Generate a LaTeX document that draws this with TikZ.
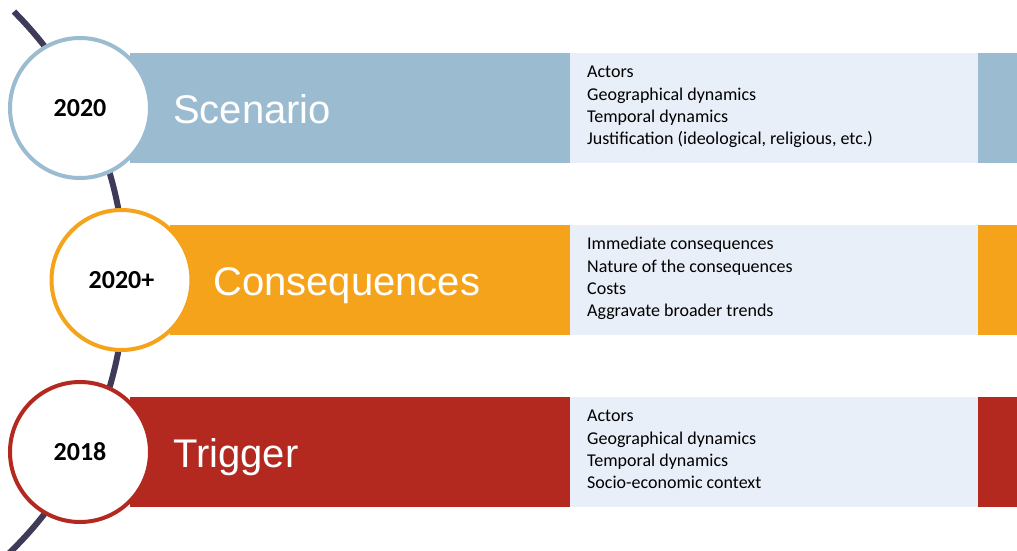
\documentclass[tikz,border=0pt]{standalone}
\usepackage{fontspec}
\setmainfont{Carlito}
\newfontfamily\headfont{Liberation Sans}
\definecolor{scenblue}{HTML}{9BBBD1}
\definecolor{consorange}{HTML}{F4A31B}
\definecolor{trigred}{HTML}{B4291F}
\definecolor{listbg}{HTML}{E9EFF8}
\definecolor{tldark}{HTML}{3D3B58}
\begin{document}
\begin{tikzpicture}
    [x=1pt,y=-1pt,
     band/.style={anchor=west,minimum height=110pt,inner sep=0pt},
     yearring/.style={circle,draw=#1,line width=4pt,fill=white,minimum size=140pt,inner sep=0pt,
       font=\bfseries\fontsize{26}{30}\selectfont},
     heading/.style={anchor=base west,inner sep=0pt,text=white,font=\headfont\fontsize{40}{48}\selectfont},
     item/.style={anchor=base west,inner sep=0pt,font=\fontsize{18}{22}\selectfont},
     timeline/.style={draw=tldark,line width=6pt}]

    \useasboundingbox (0,0) rectangle (1017,551);

    \coordinate (tl-top) at (13.9,11.6);
    \draw[timeline] (tl-top) arc[start angle=45,end angle=-46,radius=379.6pt];

    \foreach \name/\y/\bx/\cx/\col/\head/\yr in
      {s/108/130/80/scenblue/Scenario/2020, c/280/170/121.5/consorange/Consequences/2020+, t/452/130/80/trigred/Trigger/2018}
    {
      \node[band,fill=\col,minimum width={1017-\bx}] (\name-band) at (\bx,\y) {};
      \node[band,fill=listbg,minimum width=408] (\name-list) at (570,\y) {};
      \node[yearring=\col] (\name-year) at (\cx,\y) {\yr};
      \node[heading] (\name-head) at ({\bx+43},{\y+15}) {\head};
    }

    \foreach \name/\i/\txt in {s/1/Actors, s/2/Geographical dynamics, s/3/Temporal dynamics,
        s/4/{Justification (ideological, religious, etc.)},
        c/1/Immediate consequences, c/2/Nature of the consequences, c/3/Costs, c/4/Aggravate broader trends,
        t/1/Actors, t/2/Geographical dynamics, t/3/Temporal dynamics, t/4/Socio-economic context}
      \node[item] (\name-\i) at ([xshift=17pt,yshift={-2.7pt-22.3pt*\i}]\name-list.north west) {\txt};
  \end{tikzpicture}
\end{document}
